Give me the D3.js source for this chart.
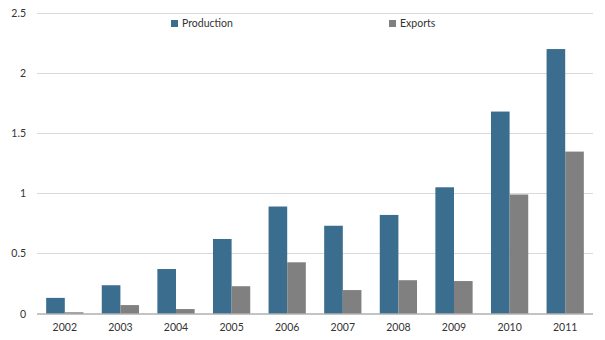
<!DOCTYPE html>
<html>
<head>
<meta charset="utf-8">
<script src="https://cdn.jsdelivr.net/npm/d3@7"></script>
<style>
  body { margin: 0; background: #fff; }
  svg text { font-family: Lato, "Open Sans", sans-serif; font-size: 10.5px; fill: #333; }
</style>
</head>
<body>
<svg id="chart" width="605" height="340"></svg>
<script>
// data
var years = ["2002", "2003", "2004", "2005", "2006", "2007", "2008", "2009", "2010", "2011"];
var production = [0.13, 0.235, 0.37, 0.62, 0.89, 0.73, 0.82, 1.05, 1.68, 2.2];
var exports = [0.01, 0.07, 0.037, 0.227, 0.426, 0.195, 0.277, 0.27, 0.99, 1.347];
var seriesNames = ["Production", "Exports"];
var seriesColors = ["#3a6d8e", "#808080"];
var yTicks = [0, 0.5, 1, 1.5, 2, 2.5];

var svg = d3.select("#chart");
var plotLeft = 37, plotRight = 593, plotTop = 13, plotBottom = 313.5;

var x = d3.scaleBand().domain(years).range([plotLeft, plotRight]).paddingInner(0.33).paddingOuter(0.165);
var xs = d3.scaleBand().domain(seriesNames).range([0, x.bandwidth()]);
var y = d3.scaleLinear().domain([0, 2.5]).range([plotBottom, plotTop]);

// gridlines
svg.append("g").selectAll("line").data(yTicks.filter(function(d) { return d > 0; }))
    .enter().append("line")
    .attr("x1", plotLeft).attr("x2", plotRight)
    .attr("y1", function(d) { return Math.round(y(d)) + 0.5; })
    .attr("y2", function(d) { return Math.round(y(d)) + 0.5; })
    .attr("stroke", "#d9d9d9").attr("stroke-width", 1);

// y labels
svg.append("g").selectAll("text").data(yTicks).enter().append("text")
    .attr("x", 26).attr("y", function(d) { return y(d) + 4; })
    .attr("text-anchor", "end")
    .text(function(d) { return d; });

// bars
var groups = svg.append("g").selectAll("g").data(years).enter().append("g")
    .attr("transform", function(d) { return "translate(" + x(d) + ",0)"; });

groups.selectAll("rect").data(function(d, i) {
    return [
        { name: seriesNames[0], v: production[i] },
        { name: seriesNames[1], v: exports[i] }
    ];
}).enter().append("rect")
    .attr("x", function(d) { return xs(d.name); })
    .attr("width", xs.bandwidth())
    .attr("y", function(d) { return y(d.v); })
    .attr("height", function(d) { return plotBottom - y(d.v); })
    .attr("fill", function(d, j) { return seriesColors[j]; });

// x axis line
svg.append("line")
    .attr("x1", plotLeft).attr("x2", plotRight)
    .attr("y1", Math.round(plotBottom)).attr("y2", Math.round(plotBottom))
    .attr("stroke", "#888").attr("stroke-width", 1);

// x labels
svg.append("g").selectAll("text").data(years).enter().append("text")
    .attr("x", function(d) { return x(d) + x.bandwidth() / 2; })
    .attr("y", 331)
    .attr("text-anchor", "middle")
    .text(function(d) { return d; });

// legend
var legendX = [171, 389];
var legend = svg.append("g").selectAll("g").data(seriesNames).enter().append("g")
    .attr("transform", function(d, i) { return "translate(" + legendX[i] + ",20)"; });
legend.append("rect").attr("width", 7).attr("height", 7)
    .attr("fill", function(d, i) { return seriesColors[i]; });
legend.append("text").attr("x", 11).attr("y", 7).text(function(d) { return d; });
</script>
</body>
</html>
